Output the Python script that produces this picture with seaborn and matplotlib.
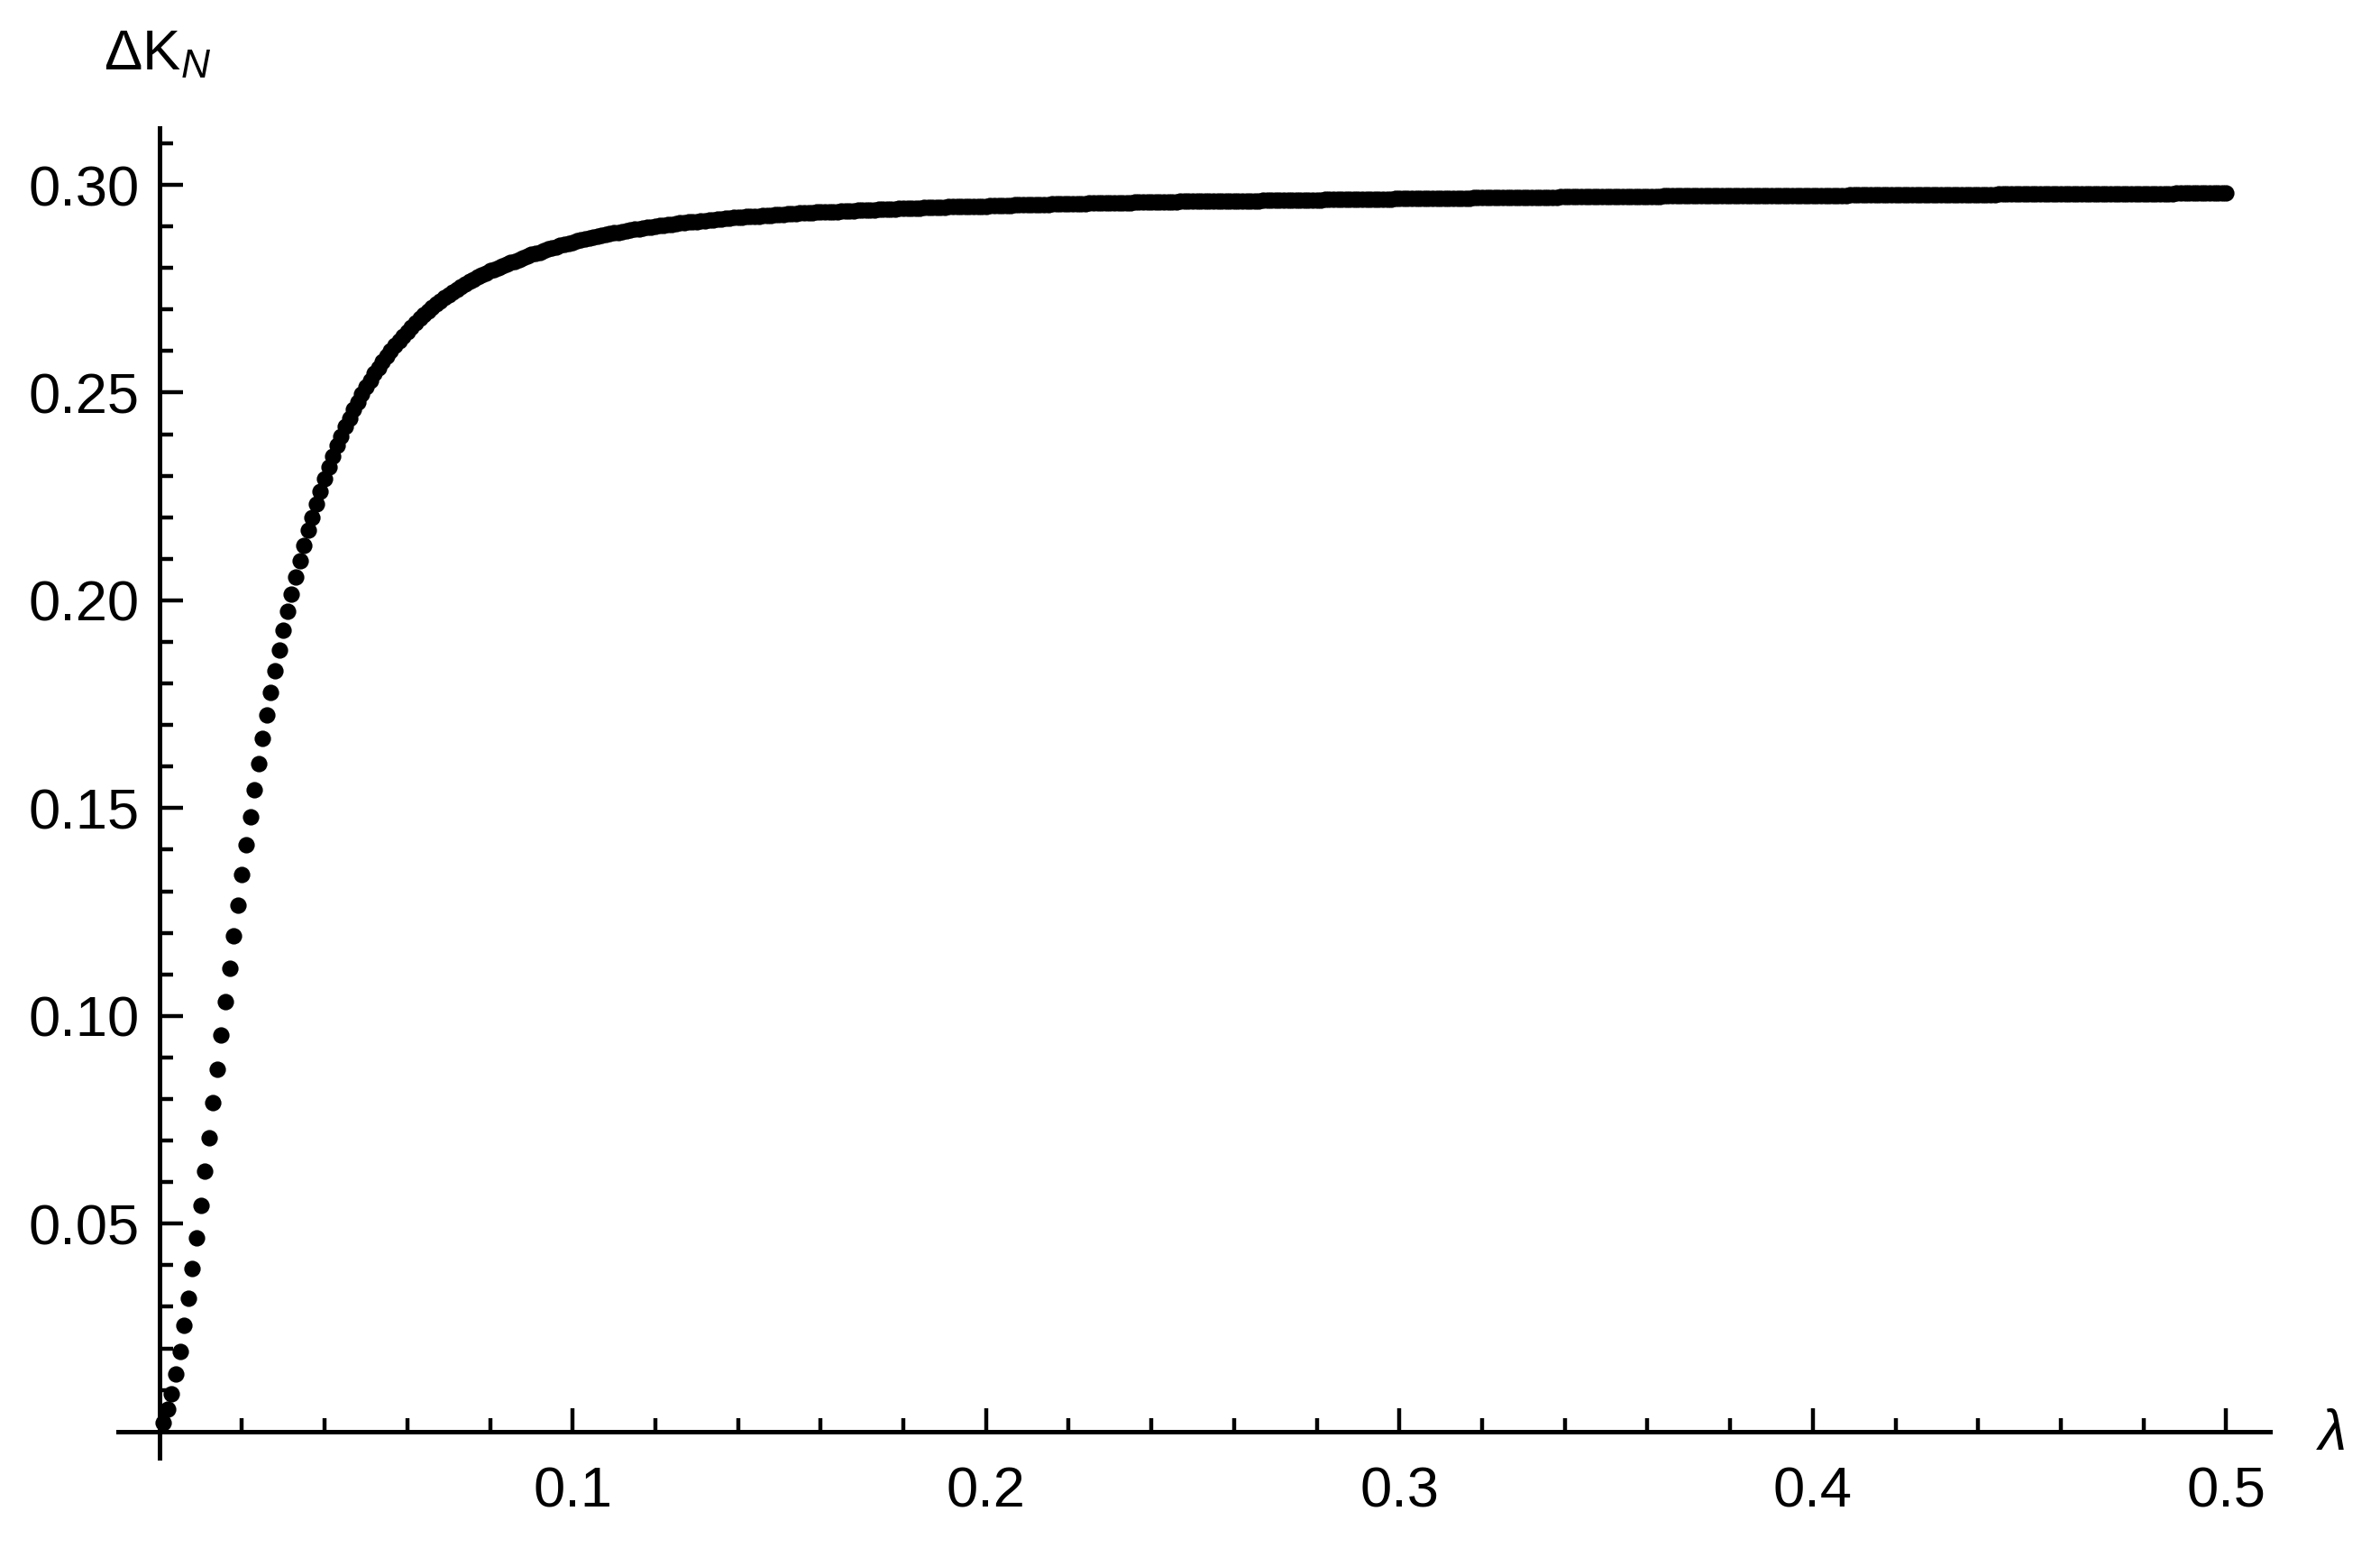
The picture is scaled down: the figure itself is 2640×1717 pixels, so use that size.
import numpy as np
import pandas as pd
import matplotlib
matplotlib.use('Agg')
import matplotlib.pyplot as plt
import seaborn as sns
from matplotlib.ticker import FixedLocator, FormatStrFormatter

sns.set_style('ticks')
plt.rcParams['font.family'] = ['Liberation Sans', 'DejaVu Sans']
plt.rcParams['mathtext.fontset'] = 'custom'
plt.rcParams['mathtext.rm'] = 'Liberation Sans'
plt.rcParams['mathtext.it'] = 'Liberation Sans:italic'
plt.rcParams['text.color'] = 'black'

# === 데이터: lambda = 0.001 ... 0.500 (0.001 간격) ===
lam = np.arange(1, 501) / 1000

# 급상승 구간 (k = 1..60)
dk_rise = [
    0.0022, 0.0053, 0.0091, 0.0138, 0.0193, 0.0255, 0.0320, 0.0392, 0.0467, 0.0545,
    0.0626, 0.0707, 0.0791, 0.0872, 0.0955, 0.1035, 0.1115, 0.1193, 0.1267, 0.1340,
    0.1411, 0.1479, 0.1544, 0.1607, 0.1667, 0.1724, 0.1779, 0.1831, 0.1880, 0.1928,
    0.1974, 0.2016, 0.2056, 0.2095, 0.2133, 0.2168, 0.2200, 0.2232, 0.2263, 0.2292,
    0.2320, 0.2347, 0.2372, 0.2395, 0.2418, 0.2439, 0.2459, 0.2478, 0.2497, 0.2514,
    0.2530, 0.2546, 0.2560, 0.2574, 0.2588, 0.2600, 0.2613, 0.2625, 0.2636, 0.2647,
]

# 꺾이는 구간 (k = 61..200)
dk_knee = [
    0.2658, 0.2668, 0.2678, 0.2688, 0.2696, 0.2705, 0.2713, 0.2721, 0.2728, 0.2736,
    0.2742, 0.2749, 0.2755, 0.2761, 0.2767, 0.2773, 0.2778, 0.2783, 0.2788, 0.2793,
    0.2797, 0.2801, 0.2805, 0.2809, 0.2813, 0.2816, 0.2820, 0.2824, 0.2828, 0.2832,
    0.2835, 0.2838, 0.2842, 0.2845, 0.2848, 0.2851, 0.2854, 0.2857, 0.2859, 0.2862,
    0.2865, 0.2867, 0.2869, 0.2872, 0.2874, 0.2876, 0.2878, 0.2880, 0.2882, 0.2884,
    0.2886, 0.2888, 0.2889, 0.2891, 0.2893, 0.2894, 0.2896, 0.2897, 0.2899, 0.2900,
    0.2902, 0.2903, 0.2904, 0.2905, 0.2907, 0.2908, 0.2909, 0.2910, 0.2911, 0.2912,
    0.2913, 0.2914, 0.2915, 0.2916, 0.2917, 0.2918, 0.2919, 0.2920, 0.2921, 0.2921,
    0.2922, 0.2923, 0.2924, 0.2924, 0.2925, 0.2926, 0.2927, 0.2927, 0.2928, 0.2929,
    0.2929, 0.2930, 0.2930, 0.2931, 0.2932, 0.2932, 0.2933, 0.2933, 0.2934, 0.2934,
    0.2935, 0.2935, 0.2936, 0.2936, 0.2937, 0.2937, 0.2938, 0.2938, 0.2939, 0.2939,
    0.2940, 0.2940, 0.2940, 0.2941, 0.2941, 0.2942, 0.2942, 0.2942, 0.2943, 0.2943,
    0.2943, 0.2944, 0.2944, 0.2944, 0.2945, 0.2945, 0.2945, 0.2946, 0.2946, 0.2946,
    0.2947, 0.2947, 0.2947, 0.2948, 0.2948, 0.2948, 0.2949, 0.2949, 0.2949, 0.2949,
]

# 평탄 구간 (k = 201..500)
dk_plateau = [
    0.2950, 0.2950, 0.2951, 0.2951, 0.2951, 0.2951, 0.2952, 0.2952, 0.2952, 0.2952,
    0.2953, 0.2953, 0.2953, 0.2953, 0.2953, 0.2954, 0.2954, 0.2954, 0.2954, 0.2955,
    0.2955, 0.2955, 0.2955, 0.2955, 0.2956, 0.2956, 0.2956, 0.2956, 0.2956, 0.2957,
    0.2957, 0.2957, 0.2957, 0.2957, 0.2957, 0.2958, 0.2958, 0.2958, 0.2958, 0.2958,
    0.2959, 0.2959, 0.2959, 0.2959, 0.2959, 0.2959, 0.2960, 0.2960, 0.2960, 0.2960,
    0.2960, 0.2960, 0.2960, 0.2961, 0.2961, 0.2961, 0.2961, 0.2961, 0.2961, 0.2962,
    0.2962, 0.2962, 0.2962, 0.2962, 0.2962, 0.2962, 0.2963, 0.2963, 0.2963, 0.2963,
    0.2963, 0.2963, 0.2963, 0.2964, 0.2964, 0.2964, 0.2964, 0.2964, 0.2964, 0.2964,
    0.2964, 0.2965, 0.2965, 0.2965, 0.2965, 0.2965, 0.2965, 0.2965, 0.2965, 0.2966,
    0.2966, 0.2966, 0.2966, 0.2966, 0.2966, 0.2966, 0.2966, 0.2966, 0.2967, 0.2967,
    0.2967, 0.2967, 0.2967, 0.2967, 0.2967, 0.2967, 0.2967, 0.2968, 0.2968, 0.2968,
    0.2968, 0.2968, 0.2968, 0.2968, 0.2968, 0.2968, 0.2968, 0.2969, 0.2969, 0.2969,
    0.2969, 0.2969, 0.2969, 0.2969, 0.2969, 0.2969, 0.2969, 0.2970, 0.2970, 0.2970,
    0.2970, 0.2970, 0.2970, 0.2970, 0.2970, 0.2970, 0.2970, 0.2970, 0.2971, 0.2971,
    0.2971, 0.2971, 0.2971, 0.2971, 0.2971, 0.2971, 0.2971, 0.2971, 0.2971, 0.2971,
    0.2972, 0.2972, 0.2972, 0.2972, 0.2972, 0.2972, 0.2972, 0.2972, 0.2972, 0.2972,
    0.2972, 0.2972, 0.2972, 0.2973, 0.2973, 0.2973, 0.2973, 0.2973, 0.2973, 0.2973,
    0.2973, 0.2973, 0.2973, 0.2973, 0.2973, 0.2973, 0.2973, 0.2974, 0.2974, 0.2974,
    0.2974, 0.2974, 0.2974, 0.2974, 0.2974, 0.2974, 0.2974, 0.2974, 0.2974, 0.2974,
    0.2974, 0.2974, 0.2975, 0.2975, 0.2975, 0.2975, 0.2975, 0.2975, 0.2975, 0.2975,
    0.2975, 0.2975, 0.2975, 0.2975, 0.2975, 0.2975, 0.2975, 0.2975, 0.2976, 0.2976,
    0.2976, 0.2976, 0.2976, 0.2976, 0.2976, 0.2976, 0.2976, 0.2976, 0.2976, 0.2976,
    0.2976, 0.2976, 0.2976, 0.2976, 0.2976, 0.2977, 0.2977, 0.2977, 0.2977, 0.2977,
    0.2977, 0.2977, 0.2977, 0.2977, 0.2977, 0.2977, 0.2977, 0.2977, 0.2977, 0.2977,
    0.2977, 0.2977, 0.2977, 0.2977, 0.2978, 0.2978, 0.2978, 0.2978, 0.2978, 0.2978,
    0.2978, 0.2978, 0.2978, 0.2978, 0.2978, 0.2978, 0.2978, 0.2978, 0.2978, 0.2978,
    0.2978, 0.2978, 0.2978, 0.2978, 0.2978, 0.2979, 0.2979, 0.2979, 0.2979, 0.2979,
    0.2979, 0.2979, 0.2979, 0.2979, 0.2979, 0.2979, 0.2979, 0.2979, 0.2979, 0.2979,
    0.2979, 0.2979, 0.2979, 0.2979, 0.2979, 0.2979, 0.2979, 0.2980, 0.2980, 0.2980,
    0.2980, 0.2980, 0.2980, 0.2980, 0.2980, 0.2980, 0.2980, 0.2980, 0.2980, 0.2980,
]

x_major = [0.1, 0.2, 0.3, 0.4, 0.5]
y_major = [0.05, 0.10, 0.15, 0.20, 0.25, 0.30]

dk = np.array(dk_rise + dk_knee + dk_plateau)
df = pd.DataFrame({'lam': lam, 'dk': dk})

# === 그림 ===
fig = plt.figure(figsize=(26.4, 17.17), dpi=100)
ax = fig.add_axes([0.0496, 0.0582, 0.9042, 0.8591])

sns.scatterplot(data=df, x='lam', y='dk', color='black', s=172, linewidth=0,
                ax=ax, legend=False)

ax.set_xlim(-0.00997, 0.5106)
ax.set_ylim(-0.00636, 0.31367)
ax.set_xlabel('')
ax.set_ylabel('')

# 원점에서 교차하는 축
for side in ['top', 'right']:
    ax.spines[side].set_visible(False)
for side in ['left', 'bottom']:
    ax.spines[side].set_position(('data', 0))
    ax.spines[side].set_linewidth(3.6)
    ax.spines[side].set_color('black')

ax.xaxis.set_major_locator(FixedLocator(x_major))
ax.xaxis.set_minor_locator(FixedLocator(np.arange(1, 26) * 0.02))
ax.yaxis.set_major_locator(FixedLocator(y_major))
ax.yaxis.set_minor_locator(FixedLocator(np.arange(1, 32) * 0.01))
ax.xaxis.set_major_formatter(FormatStrFormatter('%.1f'))
ax.yaxis.set_major_formatter(FormatStrFormatter('%.2f'))

ax.tick_params(which='both', direction='in', bottom=True, left=True,
               top=False, right=False, color='black', width=3.2)
ax.tick_params(which='major', length=18.7, labelsize=45.5, labelcolor='black')
ax.tick_params(which='minor', length=10.8)
ax.tick_params(axis='x', which='major', pad=27)
ax.tick_params(axis='y', which='major', pad=16)

# 축 이름
fig.text(115 / 2640, 1 - 77 / 1717, 'ΔK$_N$', fontsize=45.5,
         ha='left', va='baseline')
fig.text(2572 / 2640, 1 - 1608 / 1717, 'λ', fontsize=45.5, fontstyle='italic',
         ha='left', va='baseline')

fig.savefig('out.png', dpi=100)
